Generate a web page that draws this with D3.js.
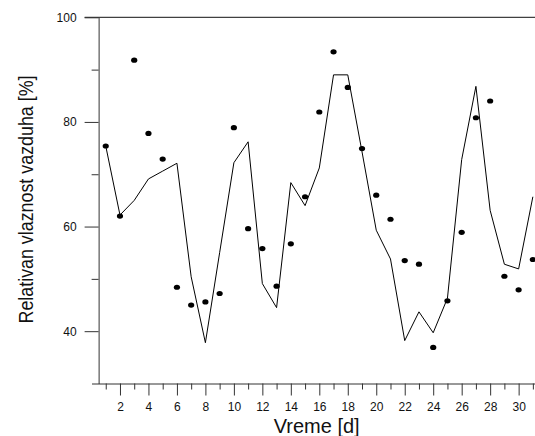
<!DOCTYPE html>
<html>
<head>
<meta charset="utf-8">
<script src="https://cdn.jsdelivr.net/npm/d3@7"></script>
<style>
  html, body { margin: 0; padding: 0; background: #fff; }
  svg { display: block; font-family: Arial, "Liberation Sans", sans-serif; }
</style>
</head>
<body>
<svg id="chart" width="535" height="436"></svg>
<script>
// Days of the month
const days = d3.range(1, 32);

// Calculated relative humidity (solid line), %
const modelValues = [75.4, 62.2, 65.0, 69.1, 70.6, 72.1, 50.4, 37.8, 55.0, 72.2,
                     76.2, 49.1, 44.5, 68.4, 64.0, 71.2, 89.0, 89.0, 74.3, 59.3,
                     53.8, 38.2, 43.7, 39.7, 46.3, 72.8, 86.8, 63.1, 52.8, 51.9, 65.7];

// Measured relative humidity (dots), %
const measuredValues = [75.4, 62.0, 91.8, 77.8, 72.9, 48.4, 45.0, 45.6, 47.2, 78.9,
                        59.6, 55.8, 48.6, 56.7, 65.7, 81.9, 93.4, 86.6, 74.9, 66.0,
                        61.4, 53.5, 52.8, 36.9, 45.8, 58.9, 80.8, 84.0, 50.5, 47.9, 53.7];

const xMajorTicks = [2, 4, 6, 8, 10, 12, 14, 16, 18, 20, 22, 24, 26, 28, 30];
const xMinorTicks = [1, 3, 5, 7, 9, 11, 13, 15, 17, 19, 21, 23, 25, 27, 29, 31];
const yMajorTicks = [40, 60, 80, 100];
const yMinorTicks = [50, 70, 90];

const xTitle = "Vreme [d]";
const yTitle = "Relativan vlaznost vazduha [%]";

const svg = d3.select("#chart");
const W = 535;

const x = d3.scaleLinear().domain([0, 31.15]).range([91.5, W]);
const y = d3.scaleLinear().domain([30, 100]).range([383.5, 17.3]);
const yAxisAt = 0.5;   // the value axis sits half a day in
const axisColor = "#333";

// clip everything to the drawing area
svg.append("defs").append("clipPath").attr("id", "plotClip")
  .append("rect").attr("x", 0).attr("y", 0).attr("width", W).attr("height", 436);

// top frame line (continues the 100 tick across the plot)
svg.append("line")
  .attr("x1", x(yAxisAt) - 14).attr("x2", W)
  .attr("y1", y(100)).attr("y2", y(100))
  .attr("stroke", "#111").attr("stroke-width", 1);

// X axis
const xAxisG = svg.append("g").attr("transform", `translate(0,${y(30)})`);
xAxisG.call(d3.axisBottom(x).tickValues(xMajorTicks).tickSize(12).tickPadding(7)
  .tickSizeOuter(0).tickFormat(d3.format("d")));
xAxisG.append("g").call(d3.axisBottom(x).tickValues(xMinorTicks).tickSize(6)
  .tickFormat("")).select(".domain").remove();

// Y axis
const yAxisG = svg.append("g").attr("transform", `translate(${x(yAxisAt)},0)`);
yAxisG.call(d3.axisLeft(y).tickValues(yMajorTicks).tickSize(14).tickPadding(8)
  .tickSizeOuter(0).tickFormat(d3.format("d")));
yAxisG.append("g").call(d3.axisLeft(y).tickValues(yMinorTicks).tickSize(7)
  .tickFormat("")).select(".domain").remove();

svg.selectAll(".domain, .tick line").attr("stroke", axisColor).attr("stroke-width", 1);
svg.selectAll(".tick text").attr("fill", "#111").style("font-size", "12px")
  .style("font-family", "Arial, 'Liberation Sans', sans-serif");

// calculated series
const line = d3.line().x((d, i) => x(days[i])).y(d => y(d));
svg.append("path")
  .datum(modelValues)
  .attr("d", line)
  .attr("fill", "none")
  .attr("stroke", "#000")
  .attr("stroke-width", 1)
  .attr("clip-path", "url(#plotClip)");

// measured series
svg.append("g").selectAll("ellipse")
  .data(measuredValues)
  .join("ellipse")
  .attr("cx", (d, i) => x(days[i]))
  .attr("cy", d => y(d))
  .attr("rx", 3.1)
  .attr("ry", 2.6)
  .attr("fill", "#000");

// axis titles
svg.append("text")
  .attr("x", 316.7).attr("y", 432.5)
  .attr("text-anchor", "middle")
  .style("font-size", "20px")
  .attr("fill", "#111")
  .text(xTitle);

svg.append("text")
  .attr("transform", "translate(32.5,199.5) rotate(-90)")
  .attr("text-anchor", "middle")
  .attr("textLength", 248)
  .attr("lengthAdjust", "spacingAndGlyphs")
  .style("font-size", "21px")
  .attr("fill", "#111")
  .text(yTitle);
</script>
</body>
</html>
